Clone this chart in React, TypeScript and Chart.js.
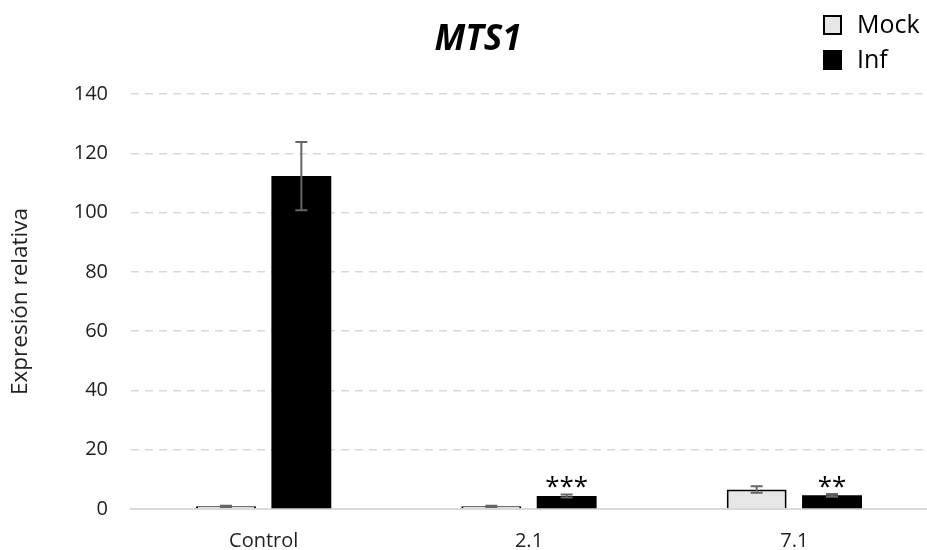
import React, { useEffect, useRef } from 'react';
import { Chart, registerables } from 'chart.js';

Chart.register(...registerables);

const categories = ['Control', '2.1', '7.1'];
const seriesNames = ['Mock', 'Inf'];
const mockValues = [0.9, 0.9, 6.6];
const infValues = [112.3, 4.4, 4.6];
const mockErrors = [0.2, 0.2, 1.1];
const infErrors = [11.5, 0.5, 0.5];
const infSignificance = ['', '***', '**'];
const yTickValues = [0, 20, 40, 60, 80, 100, 120, 140];
const chartTitle = 'MTS1';
const yAxisTitle = 'Expresión relativa';

const FONT = "'Open Sans', sans-serif";
const mockFill = '#e7e6e6';

export default function App() {
  const ref = useRef<HTMLCanvasElement | null>(null);

  useEffect(() => {
    const canvas = ref.current;
    if (!canvas) return;
    const errors = [mockErrors, infErrors];

    const overlay = {
      id: 'overlay',
      afterDatasetsDraw(chart: any) {
        const ctx = chart.ctx;
        const y = chart.scales.y;
        ctx.save();
        chart.data.datasets.forEach((ds: any, i: number) => {
          const meta = chart.getDatasetMeta(i);
          meta.data.forEach((bar: any, j: number) => {
            const v = ds.data[j];
            const e = errors[i][j];
            const x = bar.x;
            const top = y.getPixelForValue(v + e);
            const bot = y.getPixelForValue(v - e);
            ctx.strokeStyle = '#666666';
            ctx.lineWidth = 2;
            ctx.beginPath();
            ctx.moveTo(x, top);
            ctx.lineTo(x, bot);
            ctx.moveTo(x - 6, top);
            ctx.lineTo(x + 6, top);
            ctx.moveTo(x - 6, bot);
            ctx.lineTo(x + 6, bot);
            ctx.stroke();
          });
        });
        const infMeta = chart.getDatasetMeta(1);
        ctx.fillStyle = '#000';
        ctx.font = `26px ${FONT}`;
        ctx.textAlign = 'center';
        ctx.textBaseline = 'alphabetic';
        infMeta.data.forEach((bar: any, j: number) => {
          const s = infSignificance[j];
          if (!s) return;
          const top = y.getPixelForValue(infValues[j] + infErrors[j]);
          ctx.fillText(s, bar.x, top + 1);
        });
        ctx.restore();
      },
      afterDraw(chart: any) {
        const ctx = chart.ctx;
        ctx.save();
        ctx.fillStyle = '#000';
        ctx.font = `italic bold 35px ${FONT}`;
        ctx.textAlign = 'center';
        ctx.textBaseline = 'middle';
        ctx.fillText(chartTitle, 478, 40);
        const items = [
          { label: seriesNames[0], fill: mockFill, y: 15 },
          { label: seriesNames[1], fill: '#000', y: 50 },
        ];
        items.forEach((it) => {
          ctx.fillStyle = it.fill;
          ctx.fillRect(823, it.y, 19, 20);
          ctx.strokeStyle = '#000';
          ctx.lineWidth = 2;
          ctx.strokeRect(824, it.y + 1, 17, 18);
          ctx.fillStyle = '#000';
          ctx.font = `25px ${FONT}`;
          ctx.textAlign = 'left';
          ctx.textBaseline = 'middle';
          ctx.fillText(it.label, 857, it.y + 11);
        });
        ctx.restore();
      },
    };

    const chart = new Chart(canvas, {
      type: 'bar',
      data: {
        labels: categories,
        datasets: [
          {
            label: seriesNames[0],
            data: mockValues,
            backgroundColor: mockFill,
            borderColor: '#000',
            borderWidth: 2,
            barPercentage: 0.795,
            categoryPercentage: 0.568,
          },
          {
            label: seriesNames[1],
            data: infValues,
            backgroundColor: '#000',
            borderColor: '#000',
            borderWidth: 0,
            barPercentage: 0.795,
            categoryPercentage: 0.568,
          },
        ],
      },
      options: {
        responsive: false,
        animation: false,
        layout: { padding: { top: 94, left: 0, right: 0, bottom: 0 } },
        plugins: {
          legend: { display: false },
          title: { display: false },
          tooltip: { enabled: false },
        },
        scales: {
          x: {
            grid: { display: false },
            border: { display: true, color: '#d9d9d9', width: 2 },
            ticks: {
              color: '#222',
              font: { family: FONT, size: 20 },
              padding: 12,
            },
            afterFit(s: any) {
              s.height = 41;
            },
          },
          y: {
            min: 0,
            max: 140,
            afterBuildTicks(s: any) {
              s.ticks = yTickValues.map((v) => ({ value: v }));
            },
            afterFit(s: any) {
              s.width = 131;
            },
            grid: {
              color: (c: any) => (c.tick && c.tick.value === 0 ? 'rgba(0,0,0,0)' : '#d9d9d9'),
              lineWidth: 1.5,
              drawTicks: false,
            },
            border: { display: false, dash: [8, 6] },
            ticks: {
              color: '#222',
              font: { family: FONT, size: 20 },
              padding: 23,
            },
            title: {
              display: true,
              text: yAxisTitle,
              color: '#222',
              font: { family: FONT, size: 22.5 },
              padding: { top: 7, bottom: 0 },
            },
          },
        },
      },
      plugins: [overlay],
    });

    return () => chart.destroy();
  }, []);

  return (
    <div style={{ position: 'absolute', left: 0, top: 0, width: 927, height: 550, background: '#fff' }}>
      <canvas ref={ref} width={927} height={550} />
    </div>
  );
}
